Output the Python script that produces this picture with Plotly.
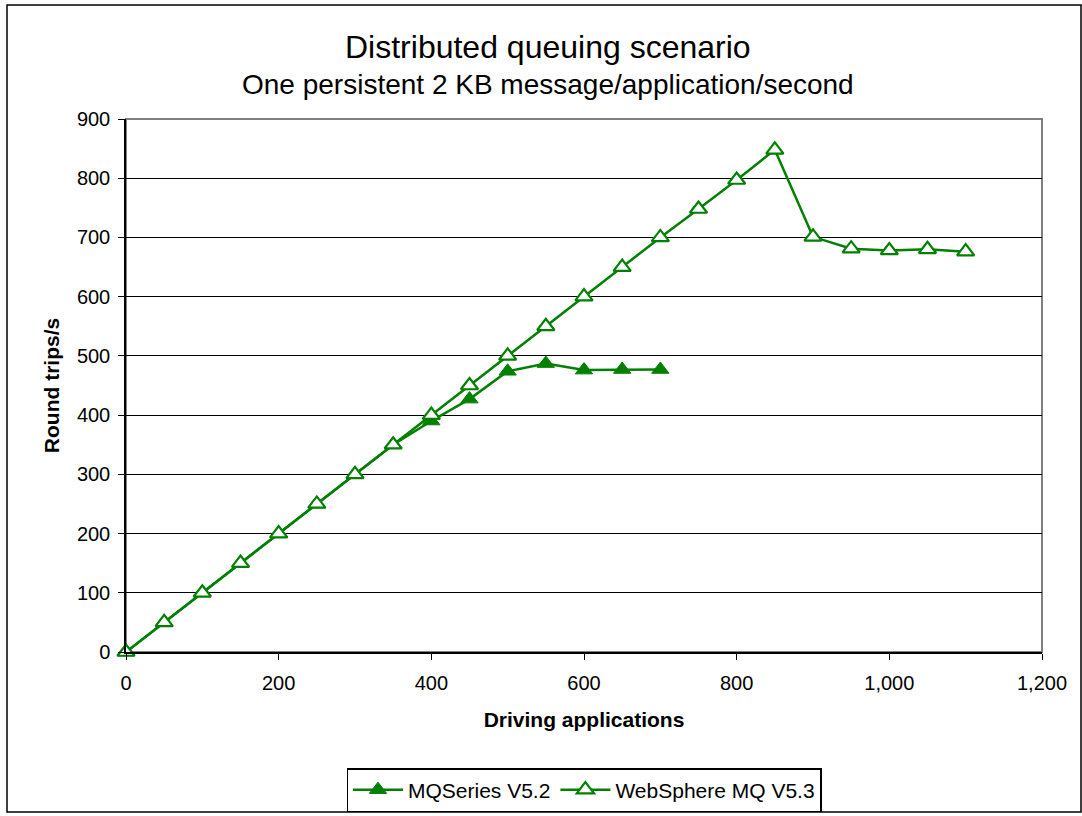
"""Distributed queuing scenario: round trips per second vs driving applications"""
import plotly.graph_objects as go

# Data
mq52_apps = [0, 50, 100, 150, 200, 250, 300, 350, 400, 450, 500, 550, 600, 650, 700]
mq52_trips = [0, 50, 100, 150, 200, 250, 300, 350, 390, 427, 474, 487, 476, 477, 477]

mq53_apps = [0, 50, 100, 150, 200, 250, 300, 350, 400, 450, 500, 550, 600, 650, 700,
             750, 800, 850, 900, 950, 1000, 1050, 1100]
mq53_trips = [0, 50, 100, 150, 200, 250, 300, 350, 400, 450, 500, 550, 600, 650, 700,
              748, 797, 848, 701, 681, 678, 680, 676]

GREEN = "#008000"
FONT = "Liberation Sans, Arial, sans-serif"

fig = go.Figure()

# Filled triangles - MQSeries V5.2
fig.add_trace(go.Scatter(
    x=mq52_apps, y=mq52_trips,
    mode="lines+markers",
    name="MQSeries V5.2",
    cliponaxis=False,
    line=dict(color=GREEN, width=2.5),
    marker=dict(symbol="triangle-up", size=15, color=GREEN,
                line=dict(color=GREEN, width=1)),
))

# Open triangles - WebSphere MQ V5.3
fig.add_trace(go.Scatter(
    x=mq53_apps, y=mq53_trips,
    mode="lines+markers",
    name="WebSphere MQ V5.3",
    cliponaxis=False,
    line=dict(color=GREEN, width=2.5),
    marker=dict(symbol="triangle-up", size=15, color="white",
                line=dict(color=GREEN, width=2.2)),
))

# titles are centred on the whole chart, not on the plot area
title_x = (548 - 126) / 916

fig.update_layout(
    width=1082, height=816,
    paper_bgcolor="white",
    plot_bgcolor="white",
    font=dict(family=FONT, color="black", size=20),
    margin=dict(l=126, r=40, t=119, b=164, autoexpand=False),
    showlegend=True,
    legend=dict(
        orientation="h",
        x=0.5, xanchor="center",
        yref="container", y=1 - 768 / 816, yanchor="top",
        bordercolor="black", borderwidth=1.5,
        font=dict(size=21),
        itemwidth=50,
        tracegroupgap=0,
    ),
    annotations=[
        dict(text="Distributed queuing scenario", xref="paper", yref="paper",
             x=title_x, y=1.0, yshift=72, showarrow=False, xanchor="center",
             yanchor="middle", font=dict(size=32)),
        dict(text="One persistent 2 KB message/application/second", xref="paper",
             yref="paper", x=title_x, y=1.0, yshift=35, showarrow=False,
             xanchor="center", yanchor="middle", font=dict(size=28)),
    ],
    shapes=[
        # plot area border (grey)
        dict(type="rect", xref="paper", yref="paper", x0=0, y0=0, x1=1, y1=1,
             line=dict(color="#808080", width=2), layer="below"),
        # outer chart border
        dict(type="rect", xref="paper", yref="paper",
             x0=(7 - 126) / 916, x1=(1081 - 126) / 916,
             y0=(652 - 812) / 533, y1=(652 - 5) / 533,
             line=dict(color="black", width=1.5)),
    ],
)

fig.update_xaxes(
    range=[0, 1200],
    dtick=200,
    tickformat=",d",
    showgrid=False,
    zeroline=False,
    showline=True, linecolor="black", linewidth=1.5,
    ticks="outside", ticklen=6, tickcolor="black",
    ticklabelstandoff=6,
    automargin=False,
    title=dict(text="<b>Driving applications</b>", font=dict(size=21), standoff=20),
    tickfont=dict(size=20),
)

fig.update_yaxes(
    range=[0, 900],
    dtick=100,
    showgrid=True, gridcolor="black", gridwidth=1,
    zeroline=False,
    showline=True, linecolor="black", linewidth=1.5,
    ticks="outside", ticklen=6, tickcolor="black",
    ticklabelstandoff=4,
    automargin=False,
    title=dict(text="<b>Round trips/s</b>", font=dict(size=21), standoff=12),
    tickfont=dict(size=20),
)

# drop the default page margin so the figure sits at the window origin
fig.write_html("out.html", config={"displayModeBar": False},
               post_script="document.body.style.margin='0';")
